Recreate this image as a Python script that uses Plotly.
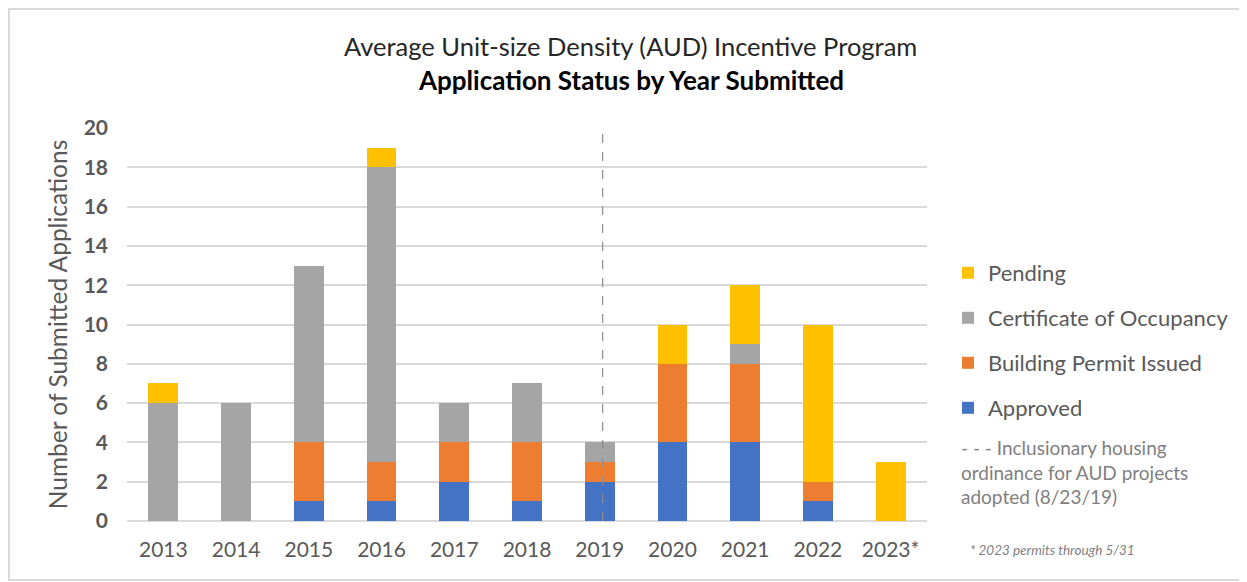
import plotly.graph_objects as go

years = ["2013", "2014", "2015", "2016", "2017", "2018", "2019", "2020", "2021", "2022", "2023*"]
approved = [0, 0, 1, 1, 2, 1, 2, 4, 4, 1, 0]
permit_issued = [0, 0, 3, 2, 2, 3, 1, 4, 4, 1, 0]
cert_occupancy = [6, 6, 9, 15, 2, 3, 1, 0, 1, 0, 0]
pending = [1, 0, 0, 1, 0, 0, 0, 2, 3, 8, 3]
y_ticks = [0, 2, 4, 6, 8, 10, 12, 14, 16, 18, 20]

series = [
    ("Approved", approved, "#4472C4", "legend4"),
    ("Building Permit Issued", permit_issued, "#ED7D31", "legend3"),
    ("Certificate of Occupancy", cert_occupancy, "#A5A5A5", "legend2"),
    ("Pending", pending, "#FFC000", "legend"),
]

OFF = 8  # page body margin
W, H = 1247 - OFF, 582 - OFF
L, R, T, B = 127 - OFF, 927 - OFF, 128 - OFF, 521 - OFF  # plot area in figure pixels


def px(x):  # screen x -> paper
    return (x - OFF - L) / (R - L)


def py(y):  # screen y -> paper
    return (B - (y - OFF)) / (B - T)


FONT = "Lato"
GREY = "#595959"

fig = go.Figure()
for name, vals, color, lg in series:
    fig.add_trace(go.Bar(x=years, y=vals, name=name, marker_color=color,
                         marker_line_width=0, legend=lg))

legend_style = dict(font=dict(family=FONT, size=22, color=GREY), xanchor="left",
                    yanchor="middle", bgcolor="rgba(0,0,0,0)", itemwidth=30)
legend_ys = {"legend": 273, "legend2": 318, "legend3": 363, "legend4": 408}

layout_legends = {}
for k, yy in legend_ys.items():
    layout_legends[k] = dict(x=px(948), y=py(yy), **legend_style)

fig.update_layout(
    width=W, height=H,
    margin=dict(l=L, r=W - R, t=T, b=H - B),
    barmode="stack",
    bargap=0.59,
    plot_bgcolor="white",
    paper_bgcolor="white",
    showlegend=True,
    font=dict(family=FONT, color=GREY),
    xaxis=dict(tickfont=dict(family=FONT, size=21, color=GREY), showgrid=False,
               showline=False, ticks="", ticklabelstandoff=14),
    yaxis=dict(range=[0, 20], tickvals=y_ticks,
               tickfont=dict(family=FONT, size=21, color=GREY, weight="bold"),
               showgrid=True, gridcolor="#d9d9d9", gridwidth=1.5,
               zeroline=True, zerolinecolor="#d9d9d9", zerolinewidth=1.5,
               ticks="", ticklabelstandoff=18,
               title=dict(text="Number of Submitted Applications",
                          font=dict(family=FONT, size=24.5, color=GREY), standoff=9)),
    **layout_legends,
)

# dashed marker for 2019 ordinance
fig.add_shape(type="line", xref="x", yref="y", x0=6.04, x1=6.04, y0=0, y1=20,
              line=dict(color="#8c8c8c", width=1.2, dash="dash"), layer="above")

# outer border
fig.add_shape(type="rect", xref="paper", yref="paper",
              x0=px(9), x1=px(1262), y0=py(580), y1=py(9),
              line=dict(color="#d9d9d9", width=2), fillcolor="rgba(0,0,0,0)")

# titles
fig.add_annotation(xref="paper", yref="paper", x=px(630), y=py(46), showarrow=False,
                   text="Average Unit-size Density (AUD) Incentive Program",
                   font=dict(family=FONT, size=25.5, color="#262626"),
                   xanchor="center", yanchor="middle")
fig.add_annotation(xref="paper", yref="paper", x=px(631), y=py(80), showarrow=False,
                   text="<b>Application Status by Year Submitted</b>",
                   font=dict(family=FONT, size=26, color="#000000"),
                   xanchor="center", yanchor="middle")

# notes
fig.add_annotation(xref="paper", yref="paper", x=px(959), y=py(434), showarrow=False,
                   text="- - - Inclusionary housing<br>ordinance for AUD projects<br>adopted (8/23/19)",
                   font=dict(family=FONT, size=19, color="#7f7f7f"),
                   xanchor="left", yanchor="top", align="left")
fig.add_annotation(xref="paper", yref="paper", x=px(968), y=py(550), showarrow=False,
                   text="<i>* 2023 permits through 5/31</i>",
                   font=dict(family=FONT, size=13.5, color="#7f7f7f"),
                   xanchor="left", yanchor="middle", align="left")

fig.write_html("out.html")
